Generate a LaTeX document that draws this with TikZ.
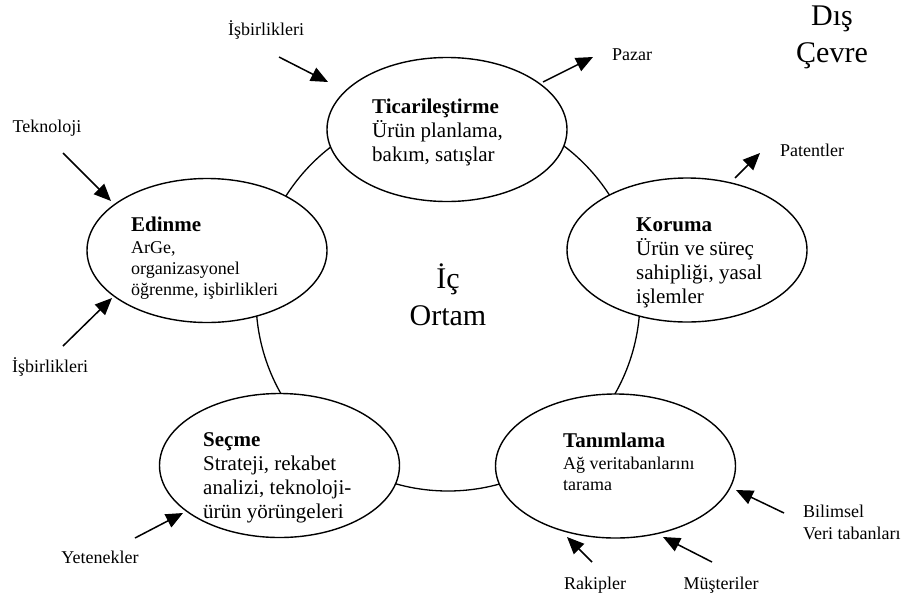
\documentclass[tikz,border=0pt]{standalone}
\usepackage{fontspec}
\setmainfont{Liberation Serif}
\usetikzlibrary{shapes.geometric,arrows.meta}
\newcommand\phasehead[1]{{\fontsize{21}{24}\selectfont\bfseries #1}}
\begin{document}
\begin{tikzpicture}[x=1pt,y=-1pt,
  phase/.style={ellipse,draw,line width=1.4pt,fill=white,minimum width=240pt,minimum height=144pt,inner sep=0pt},
  ring/.style={circle,draw,line width=1.3pt,minimum size=384pt,inner sep=0pt},
  etext/.style={anchor=north west,align=left,inner sep=0pt},
  bodyL/.style={font=\fontsize{21}{24}\selectfont},
  bodyS/.style={font=\fontsize{18}{21}\selectfont},
  lbl/.style={anchor=base,inner sep=0pt,font=\fontsize{18}{21}\selectfont},
  big/.style={anchor=base,inner sep=0pt,font=\fontsize{30}{36}\selectfont},
  flow/.style={line width=1.5pt,-{Triangle[length=17pt,width=14.5pt]}}]
\useasboundingbox (0,0) rectangle (909,598);
\fill[white] (0,0) rectangle (909,598);

% ring of the process
\node[ring] (ring) at (448,299) {};

% phases
\node[phase] (tic) at (447,129.5) {};
\node[phase] (edi) at (207,250.5) {};
\node[phase] (kor) at (687,250) {};
\node[phase] (tan) at (615.5,466) {};
\node[phase] (sec) at (279.5,465.5) {};

% phase texts
\node[etext,bodyL] (tictext) at (372,99) {\phasehead{Ticarileştirme}\\Ürün planlama,\\bakım, satışlar};
\node[etext,bodyS] (editext) at (131,217) {\phasehead{Edinme}\\[1pt]ArGe,\\organizasyonel\\öğrenme, işbirlikleri};
\node[etext,bodyL] (kortext) at (636,218) {\phasehead{Koruma}\\Ürün ve süreç\\sahipliği, yasal\\işlemler};
\node[etext,bodyS] (tantext) at (563,433) {\phasehead{Tanımlama}\\[1pt]Ağ veritabanlarını\\tarama};
\node[etext,bodyL] (sectext) at (203,432.5) {\phasehead{Seçme}\\Strateji, rekabet\\analizi, teknoloji-\\ürün yörüngeleri};

% big labels
\node[big] (ic) at (448,288) {İç};
\node[big] (ortam) at (448,325) {Ortam};
\node[big] (dis) at (832,25) {Dış};
\node[big] (cevre) at (832,62) {Çevre};

% outside labels
\node[lbl] (isb1) at (266,35) {İşbirlikleri};
\node[lbl] (tek) at (47,132) {Teknoloji};
\node[lbl] (paz) at (632,60) {Pazar};
\node[lbl] (pat) at (812,156) {Patentler};
\node[lbl] (isb2) at (50,372) {İşbirlikleri};
\node[lbl] (yet) at (100,563) {Yetenekler};
\node[lbl] (rak) at (595,589) {Rakipler};
\node[lbl] (mus) at (721,589) {Müşteriler};
\node[etext,font=\fontsize{18}{22}\selectfont] (bil) at (803,505) {Bilimsel\\Veri tabanları};

% arrow ends
\coordinate (a1s) at (279,57);  \coordinate (a1e) at (328,82);
\coordinate (a2s) at (63,153);  \coordinate (a2e) at (111,201);
\coordinate (a3s) at (543,82);  \coordinate (a3e) at (593,57);
\coordinate (a4s) at (735,178); \coordinate (a4e) at (760,153);
\coordinate (a5s) at (63,346);  \coordinate (a5e) at (112,298);
\coordinate (a6s) at (135,538); \coordinate (a6e) at (183,513);
\coordinate (a7s) at (592,562); \coordinate (a7e) at (567,537);
\coordinate (a8s) at (712,562); \coordinate (a8e) at (663,537);
\coordinate (a9s) at (784,513); \coordinate (a9e) at (736,490);

\draw[flow] (a1s) -- (a1e);
\draw[flow] (a2s) -- (a2e);
\draw[flow] (a3s) -- (a3e);
\draw[flow] (a4s) -- (a4e);
\draw[flow] (a5s) -- (a5e);
\draw[flow] (a6s) -- (a6e);
\draw[flow] (a7s) -- (a7e);
\draw[flow] (a8s) -- (a8e);
\draw[flow] (a9s) -- (a9e);
\end{tikzpicture}
\end{document}
